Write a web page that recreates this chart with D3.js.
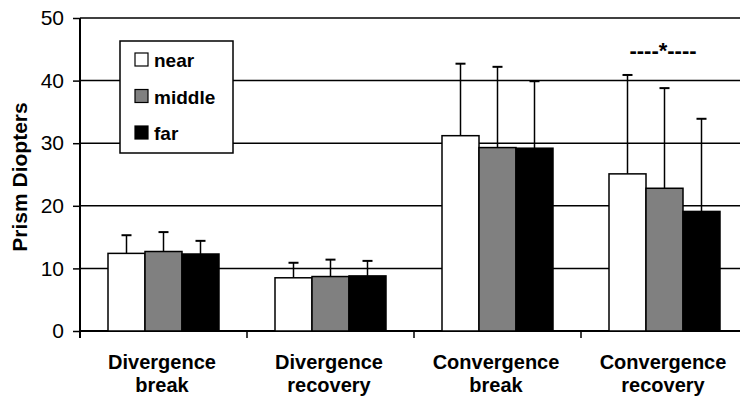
<!DOCTYPE html>
<html>
<head>
<meta charset="utf-8">
<script src="https://cdn.jsdelivr.net/npm/d3@7"></script>
<style>
html,body{margin:0;padding:0;background:#fff;}
svg{display:block;}
text{font-family:"Liberation Sans",Arial,sans-serif;fill:#000;}
</style>
</head>
<body>
<svg id="chart" width="740" height="399"></svg>
<script>
const categories = [["Divergence","break"],["Divergence","recovery"],["Convergence","break"],["Convergence","recovery"]];
const seriesNames = ["near","middle","far"];
const seriesColors = ["#ffffff","#808080","#000000"];
const nearValues   = [12.4, 8.5, 31.2, 25.1];
const middleValues = [12.7, 8.7, 29.3, 22.8];
const farValues    = [12.3, 8.8, 29.2, 19.1];
const nearErr   = [15.3, 10.9, 42.7, 40.9];
const middleErr = [15.8, 11.4, 42.2, 38.8];
const farErr    = [14.4, 11.2, 39.9, 33.9];
const yTicks = [0, 10, 20, 30, 40, 50];
const yTitle = "Prism Diopters";
const sigLabel = "----*----";

const values = [nearValues, middleValues, farValues];
const errTops = [nearErr, middleErr, farErr];

const svg = d3.select("#chart");
const pL = 80, pR = 748, pT = 18, pB = 331;

const x0 = d3.scaleBand().domain(d3.range(categories.length)).range([pL, pR]).paddingInner(0).paddingOuter(0);
const groupW = 111;
const x1 = d3.scaleBand().domain(d3.range(seriesNames.length)).range([0, groupW]);
const y = d3.scaleLinear().domain([0, 50]).range([pB, pT]);

// gridlines
svg.append("g").selectAll("line").data(yTicks.filter(t => t > 0)).join("line")
  .attr("x1", pL).attr("x2", pR)
  .attr("y1", d => y(d)).attr("y2", d => y(d))
  .attr("stroke", "#000").attr("stroke-width", 1.5);

// y axis
const yAxis = svg.append("g").attr("transform", `translate(${pL},0)`)
  .call(d3.axisLeft(y).tickValues(yTicks).tickSize(7).tickPadding(9).tickFormat(d3.format("d")));
yAxis.select(".domain").attr("stroke", "#000").attr("stroke-width", 2).attr("d", `M0,${pT}V${pB + 7}`);
yAxis.selectAll(".tick line").attr("stroke", "#000").attr("stroke-width", 1.5);
yAxis.selectAll(".tick text").attr("font-size", 21).attr("font-family", "Liberation Sans, Arial, sans-serif").attr("fill", "#000");

// x axis
svg.append("line").attr("x1", pL).attr("x2", pR).attr("y1", pB).attr("y2", pB)
  .attr("stroke", "#000").attr("stroke-width", 2);
svg.append("g").selectAll("line").data(d3.range(1, categories.length)).join("line")
  .attr("x1", d => x0(d)).attr("x2", d => x0(d))
  .attr("y1", pB).attr("y2", pB + 7)
  .attr("stroke", "#000").attr("stroke-width", 1.5);

const off = (x0.bandwidth() - groupW) / 2;

// bars and error bars
const groups = svg.append("g").selectAll("g").data(categories).join("g")
  .attr("transform", (d, i) => `translate(${x0(i) + off},0)`);

groups.each(function(c, ci) {
  const g = d3.select(this);
  seriesNames.forEach((s, si) => {
    const v = values[si][ci], e = errTops[si][ci];
    const cx = x1(si) + x1.bandwidth() / 2;
    g.append("line").attr("x1", cx).attr("x2", cx).attr("y1", y(v)).attr("y2", y(e))
      .attr("stroke", "#000").attr("stroke-width", 1.5);
    g.append("line").attr("x1", cx - 5).attr("x2", cx + 5).attr("y1", y(e)).attr("y2", y(e))
      .attr("stroke", "#000").attr("stroke-width", 2);
  });
  seriesNames.forEach((s, si) => {
    const v = values[si][ci];
    g.append("rect").attr("x", x1(si)).attr("width", x1.bandwidth())
      .attr("y", y(v)).attr("height", y(0) - y(v))
      .attr("fill", seriesColors[si]).attr("stroke", "#000").attr("stroke-width", 1.5);
  });
});

// category labels
categories.forEach((c, i) => {
  const cx = x0(i) + x0.bandwidth() / 2 - 1.5;
  svg.append("text").attr("x", cx).attr("y", 369).attr("text-anchor", "middle")
    .attr("font-size", 20).attr("font-weight", "bold").text(c[0]);
  svg.append("text").attr("x", cx).attr("y", 392).attr("text-anchor", "middle")
    .attr("font-size", 20).attr("font-weight", "bold").text(c[1]);
});

// y title
svg.append("text").attr("transform", `translate(27,177) rotate(-90)`).attr("text-anchor", "middle")
  .attr("font-size", 21).attr("font-weight", "bold").text(yTitle);

// legend
const lg = svg.append("g");
lg.append("rect").attr("x", 120).attr("y", 41).attr("width", 113).attr("height", 112)
  .attr("fill", "#fff").attr("stroke", "#000").attr("stroke-width", 1.5);
seriesNames.forEach((s, i) => {
  const yy = 53 + i * 36.5;
  lg.append("rect").attr("x", 135).attr("y", yy).attr("width", 13).attr("height", 13)
    .attr("fill", seriesColors[i]).attr("stroke", "#000").attr("stroke-width", 1.2);
  lg.append("text").attr("x", 154).attr("y", yy + 14).attr("font-size", 19).attr("font-weight", "bold").text(s);
});

// significance label
svg.append("text").attr("x", x0(3) + x0.bandwidth() / 2 - 1.5).attr("y", 58).attr("text-anchor", "middle")
  .attr("font-size", 22).attr("font-weight", "bold").text(sigLabel);
</script>
</body>
</html>
